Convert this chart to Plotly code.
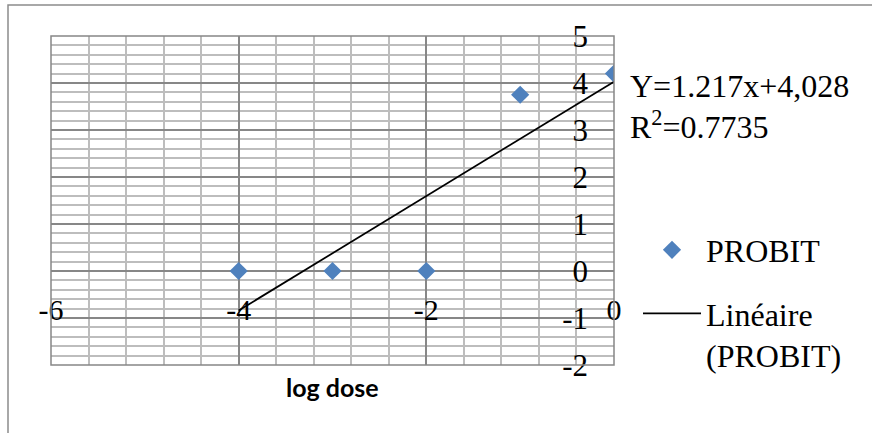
import plotly.graph_objects as go

# data
log_dose = [-4, -3, -2, -1, 0]
probit = [0, 0, 0, 3.75, 4.2]

# linear trendline as printed on the chart
slope = 1.217
intercept = 4.028
trend_x = [-4, 0]
trend_y = [slope * x + intercept for x in trend_x]

x_ticks = [-6, -4, -2, 0]
x_labels = ["-6", "-4", "-2", "0"]
y_ticks = [-2, -1, 0, 1, 2, 3, 4, 5]
y_labels = ["-2", "-1", "0", "1", "2", "3", "4", "5"]

W, H = 872, 433
L, R, T, B = 51, 614, 36, 365  # plot area in pixels


def px_x(x):
    return (x - L) / (R - L)


def px_y(y):
    return (B - y) / (B - T)


serif = "Liberation Serif, Times New Roman, serif"
major = "#878787"
minor = "#bdbdbd"

fig = go.Figure()

fig.add_trace(
    go.Scatter(
        x=log_dose,
        y=probit,
        mode="markers",
        name="PROBIT",
        marker={"symbol": "diamond", "size": 14, "color": "#4f81bd"},
        legend="legend",
        showlegend=True,
    )
)

fig.add_trace(
    go.Scatter(
        x=trend_x,
        y=trend_y,
        mode="lines",
        name="Linéaire<br>(PROBIT)",
        line={"color": "black", "width": 1.75},
        legend="legend2",
        showlegend=True,
    )
)

fig.update_layout(
    width=W,
    height=H,
    showlegend=True,
    margin={"l": L, "r": W - R, "t": T, "b": H - B, "autoexpand": False},
    paper_bgcolor="white",
    plot_bgcolor="white",
    font={"family": serif, "size": 30, "color": "black"},
    xaxis={
        "range": [-6, 0],
        "tickvals": x_ticks,
        "ticktext": x_labels,
        "showgrid": True,
        "gridcolor": major,
        "gridwidth": 1.5,
        "minor": {"dtick": 0.4, "tick0": 0, "showgrid": True,
                  "gridcolor": minor, "gridwidth": 1.5},
        "zeroline": False,
        "showline": False,
        "ticks": "",
        "anchor": "free",
        "position": px_y(289),
        "tickfont": {"family": serif, "size": 30, "color": "black"},
    },
    yaxis={
        "range": [-2, 5],
        "tickvals": y_ticks,
        "ticktext": y_labels,
        "side": "left",
        "anchor": "free",
        "position": px_x(588),
        "showgrid": True,
        "gridcolor": major,
        "gridwidth": 1.5,
        "minor": {"dtick": 0.2, "tick0": 0, "showgrid": True,
                  "gridcolor": minor, "gridwidth": 1.5},
        "zeroline": False,
        "showline": False,
        "ticks": "",
        "tickfont": {"family": serif, "size": 31, "color": "black"},
    },
    legend={
        "x": px_x(638), "y": px_y(250), "xanchor": "left", "yanchor": "middle",
        "bgcolor": "rgba(0,0,0,0)", "font": {"family": serif, "size": 32},
        "itemwidth": 58,
    },
    legend2={
        "x": px_x(638), "y": px_y(286), "xanchor": "left", "yanchor": "top",
        "valign": "top", "bgcolor": "rgba(0,0,0,0)",
        "font": {"family": serif, "size": 32},
        "itemwidth": 58,
    },
)

# plot area frame and outer chart border
fig.add_shape(type="rect", xref="x domain", yref="y domain",
              x0=0, x1=1, y0=0, y1=1, line={"color": major, "width": 1.5})
fig.add_shape(type="rect", xref="paper", yref="paper",
              x0=px_x(8), x1=px_x(W + 20), y0=px_y(H + 20), y1=px_y(5),
              line={"color": "#8c8c8c", "width": 1.5}, layer="below")

fig.add_annotation(x=px_x(628), y=px_y(86), xref="paper", yref="paper",
                   text="Y=1.217x+4,028", showarrow=False,
                   xanchor="left", yanchor="middle",
                   font={"family": serif, "size": 32})
fig.add_annotation(x=px_x(628), y=px_y(125), xref="paper", yref="paper",
                   text="R<sup>2</sup>=0.7735", showarrow=False,
                   xanchor="left", yanchor="middle",
                   font={"family": serif, "size": 32})
fig.add_annotation(x=0.5, y=px_y(387), xref="paper", yref="paper",
                   text="<b>log dose</b>", showarrow=False,
                   xanchor="center", yanchor="middle",
                   font={"family": "Lato, Carlito, sans-serif", "size": 25})

fig.write_html("out.html", config={"displayModeBar": False},
               post_script="document.body.style.margin='0';")
